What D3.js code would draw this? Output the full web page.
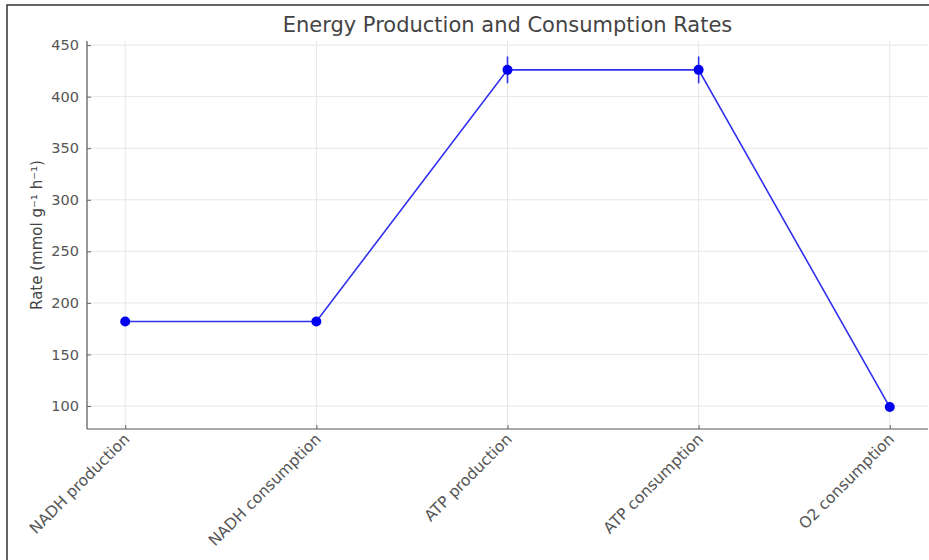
<!DOCTYPE html>
<html>
<head>
<meta charset="utf-8">
<script src="https://cdn.jsdelivr.net/npm/d3@7"></script>
<style>
  body { margin: 0; background: #fff; }
  svg { display: block; font-family: "DejaVu Sans", sans-serif; }
</style>
</head>
<body>
<svg id="chart" width="929" height="560"></svg>
<script>
// Rates per step of energy metabolism
const categories = ["NADH production", "NADH consumption", "ATP production", "ATP consumption", "O2 consumption"];
const rates = [182, 182, 426, 426, 99];
const errors = [4, 4, 13, 13, 2];
const yTicks = [100, 150, 200, 250, 300, 350, 400, 450];

const svg = d3.select("#chart");
const W = 929, H = 560;
const plot = { left: 87, right: 928, top: 41, bottom: 429 };

// outer frame
svg.append("rect")
  .attr("x", 7).attr("y", 5).attr("width", W + 10).attr("height", H + 10)
  .attr("fill", "none").attr("stroke", "#333").attr("stroke-width", 1.5);

const x = d3.scalePoint().domain(categories)
  .range([plot.left, plot.right]).padding(0.2);
const y = d3.scaleLinear().domain([77.7, 454]).range([plot.bottom, plot.top]);

// grid
const grid = svg.append("g");
grid.selectAll(".gy").data(yTicks).join("line")
  .attr("x1", plot.left).attr("x2", plot.right)
  .attr("y1", d => y(d)).attr("y2", d => y(d))
  .attr("stroke", "#e6e6e6").attr("stroke-width", 1);
grid.selectAll(".gx").data(categories).join("line")
  .attr("x1", d => x(d)).attr("x2", d => x(d))
  .attr("y1", plot.top).attr("y2", plot.bottom)
  .attr("stroke", "#e6e6e6").attr("stroke-width", 1);

// axes
const yAxis = svg.append("g").attr("transform", `translate(${plot.left},0)`)
  .call(d3.axisLeft(y).tickValues(yTicks).tickSize(-4).tickPadding(8));
const xAxis = svg.append("g").attr("transform", `translate(0,${plot.bottom})`)
  .call(d3.axisBottom(x).tickSize(-4).tickPadding(6));
[yAxis, xAxis].forEach(a => {
  a.select(".domain").attr("stroke", "#555").attr("stroke-width", 1.2);
  a.selectAll(".tick line").attr("stroke", "#666");
  a.selectAll("text").attr("fill", "#555").attr("font-size", 14.5)
    .attr("font-family", "DejaVu Sans, sans-serif");
});
yAxis.select(".domain").attr("d", `M0,${plot.top}V${plot.bottom}`);
xAxis.select(".domain").attr("d", `M${plot.left},0H${plot.right}`);
xAxis.selectAll("text")
  .attr("font-size", 15.5)
  .attr("text-anchor", "end")
  .attr("dy", 0)
  .attr("transform", "translate(5,11) rotate(-45)")
  .attr("y", 0).attr("x", 0);

// series line
const line = d3.line().x((d, i) => x(categories[i])).y(d => y(d));
svg.append("path").datum(rates)
  .attr("d", line).attr("fill", "none")
  .attr("stroke", "#3030ee").attr("stroke-width", 1.6);

// error bars
svg.selectAll(".err").data(rates).join("line")
  .attr("x1", (d, i) => x(categories[i])).attr("x2", (d, i) => x(categories[i]))
  .attr("y1", (d, i) => y(d - errors[i])).attr("y2", (d, i) => y(d + errors[i]))
  .attr("stroke", "#3030ee").attr("stroke-width", 1.6);

// markers
svg.selectAll(".pt").data(rates).join("circle")
  .attr("cx", (d, i) => x(categories[i])).attr("cy", d => y(d))
  .attr("r", 5).attr("fill", "#0000ee");

// title and axis label
svg.append("text").attr("x", (plot.left + plot.right) / 2).attr("y", 32)
  .attr("text-anchor", "middle").attr("font-size", 21).attr("fill", "#444")
  .text("Energy Production and Consumption Rates");
svg.append("text")
  .attr("transform", `translate(42,${(plot.top + plot.bottom) / 2}) rotate(-90)`)
  .attr("text-anchor", "middle").attr("font-size", 15).attr("fill", "#444")
  .text("Rate (mmol g⁻¹ h⁻¹)");
</script>
</body>
</html>
